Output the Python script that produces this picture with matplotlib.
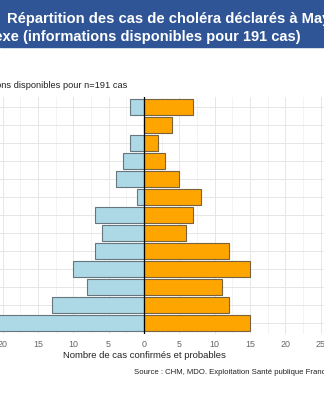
import matplotlib
matplotlib.use('Agg')

import numpy as np
import matplotlib.pyplot as plt
from matplotlib.patches import Rectangle

plt.rcParams['font.family'] = ['Liberation Sans', 'DejaVu Sans']

# age groups from bottom (youngest) to top
ages = ['0-4', '5-9', '10-14', '15-19', '20-24', '25-29', '30-34',
        '35-39', '40-44', '45-49', '50-54', '55-59', '60+']
hommes = [21, 13, 8, 10, 7, 6, 7, 1, 4, 3, 2, 0, 2]
femmes = [15, 12, 11, 15, 12, 6, 7, 8, 5, 3, 2, 4, 7]
xticks = [-25, -20, -15, -10, -5, 0, 5, 10, 15, 20, 25]

W, H = 324, 400
fig = plt.figure(figsize=(W / 100, H / 100), dpi=100)

# title banner (cropped slide)
fig.patches.append(Rectangle((0, 1 - 47 / H), 1, 47 / H, transform=fig.transFigure,
                             color='#2F5597', zorder=0))
fig.text(7 / W, 1 - 19.5 / H, 'Répartition des cas de choléra déclarés à Mayotte',
         color='white', fontsize=10.6, fontweight='bold', va='center', ha='left')
fig.text(301 / W, 1 - 37.5 / H, 'par sexe (informations disponibles pour 191 cas)',
         color='white', fontsize=10.5, fontweight='bold', va='center', ha='right')

# panel placed so that it is cropped like the reference
xmin, xmax = -27, 27
ppu = 7.2
x0 = 144
left = (x0 + xmin * ppu) / W
width = (xmax - xmin) * ppu / W
top, bottom = 96.5, 334.1
ax = fig.add_axes([left, 1 - bottom / H, width, (bottom - top) / H])

y = np.arange(len(ages))
ax.barh(y, [-v for v in hommes], height=0.9, color='#ADD8E6',
        edgecolor='#66767c', linewidth=0.8, zorder=3)
ax.barh(y, femmes, height=0.9, color='#FFA500',
        edgecolor='#77643e', linewidth=0.8, zorder=3)
ax.axvline(0, color='black', linewidth=0.9, zorder=4)

ax.set_xlim(xmin, xmax)
ax.set_ylim(-0.6, len(ages) - 0.4)
ax.set_xticks(xticks)
ax.set_xticklabels([str(abs(t)) for t in xticks], color='#666666', fontsize=6.4)
ax.set_xticks(np.arange(-27.5, 28, 5), minor=True)
ax.set_yticks(y)
ax.set_yticklabels(ages, fontsize=6.4, color='#666666')
ax.tick_params(length=0, pad=4.5)
ax.tick_params(which='minor', length=0)
ax.grid(True, which='major', color='#E6E6E6', linewidth=0.7, zorder=0)
ax.grid(True, which='minor', axis='x', color='#EEEEEE', linewidth=0.5, zorder=0)
for s in ax.spines.values():
    s.set_visible(False)

fig.text(127 / W, 1 - 86 / H, 'Informations disponibles pour n=191 cas',
         fontsize=6.7, color='#222222', ha='right', va='center')
fig.text(144 / W, 1 - 356 / H, 'Nombre de cas confirmés et probables',
         fontsize=6.8, color='#222222', ha='center', va='center')
fig.text(134 / W, 1 - 372 / H, 'Source : CHM, MDO. Exploitation Santé publique France',
         fontsize=5.6, color='#222222', ha='left', va='center')

fig.savefig('out.png', dpi=100)
